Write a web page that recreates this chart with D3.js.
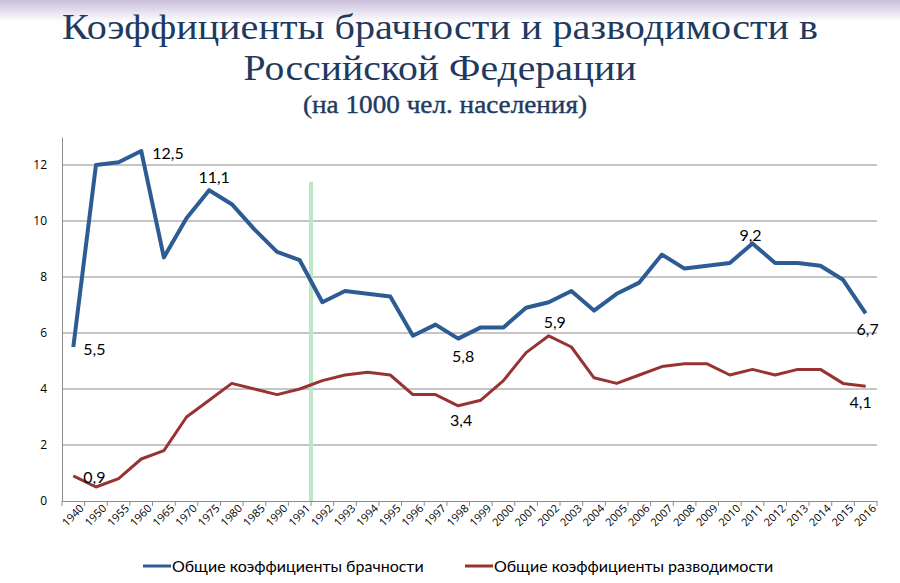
<!DOCTYPE html>
<html>
<head>
<meta charset="utf-8">
<script src="https://cdn.jsdelivr.net/npm/d3@7"></script>
<style>
  body { margin: 0; background: #fff; }
  svg { display: block; }
</style>
</head>
<body>
<div id="chart"></div>
<script>
const years = ["1940", "1950", "1955", "1960", "1965", "1970", "1975", "1980", "1985", "1990",
  "1991", "1992", "1993", "1994", "1995", "1996", "1997", "1998", "1999", "2000", "2001",
  "2002", "2003", "2004", "2005", "2006", "2007", "2008", "2009", "2010", "2011", "2012",
  "2013", "2014", "2015", "2016"];

const marriage = [5.5, 12.0, 12.1, 12.5, 8.7, 10.1, 11.1, 10.6, 9.7, 8.9,
  8.6, 7.1, 7.5, 7.4, 7.3, 5.9, 6.3, 5.8, 6.2, 6.2, 6.9,
  7.1, 7.5, 6.8, 7.4, 7.8, 8.8, 8.3, 8.4, 8.5, 9.2, 8.5,
  8.5, 8.4, 7.9, 6.7];

const divorce = [0.9, 0.5, 0.8, 1.5, 1.8, 3.0, 3.6, 4.2, 4.0, 3.8,
  4.0, 4.3, 4.5, 4.6, 4.5, 3.8, 3.8, 3.4, 3.6, 4.3, 5.3,
  5.9, 5.5, 4.4, 4.2, 4.5, 4.8, 4.9, 4.9, 4.5, 4.7, 4.5,
  4.7, 4.7, 4.2, 4.1];

const yTicks = [0, 2, 4, 6, 8, 10, 12];

const seriesNames = ["Общие коэффициенты брачности", "Общие коэффициенты разводимости"];

// which points get a value label, and where it sits relative to the point
const marriageLabels = [
  { year: "1940", dx: 10, dy: 8, anchor: "start" },
  { year: "1960", dx: 11, dy: 8, anchor: "start" },
  { year: "1975", dx: 5, dy: -7, anchor: "middle" },
  { year: "1998", dx: 5, dy: 23, anchor: "middle" },
  { year: "2011", dx: -2, dy: -2, anchor: "middle" },
  { year: "2016", dx: 2, dy: 22, anchor: "middle" }
];
const divorceLabels = [
  { year: "1940", dx: 10, dy: 7, anchor: "start" },
  { year: "1998", dx: 3, dy: 20, anchor: "middle" },
  { year: "2002", dx: 6, dy: -8, anchor: "middle" },
  { year: "2016", dx: -5, dy: 22, anchor: "middle" }
];

const width = 900;
const height = 583;
const margin = { top: 137, right: 23, bottom: 82, left: 62 };

const svg = d3.select("#chart")
  .append("svg")
  .attr("width", width)
  .attr("height", height);

// top lavender band
const defs = svg.append("defs");
const grad = defs.append("linearGradient")
  .attr("id", "topband")
  .attr("x1", 0).attr("y1", 0).attr("x2", 0).attr("y2", 1);
grad.append("stop").attr("offset", "0%").attr("stop-color", "#c9bfdc");
grad.append("stop").attr("offset", "100%").attr("stop-color", "#ffffff");
svg.append("rect")
  .attr("x", 0).attr("y", 0)
  .attr("width", width).attr("height", 22)
  .attr("fill", "url(#topband)");

// title
const titleFont = "'Liberation Serif', 'DejaVu Serif', serif";
const titleLines = [
  { text: "Коэффициенты брачности и разводимости в", y: 39, size: 36, len: 756 },
  { text: "Российской Федерации", y: 80, size: 36, len: 393 }
];
titleLines.forEach(t => {
  svg.append("text")
    .attr("x", 440).attr("y", t.y)
    .attr("text-anchor", "middle")
    .attr("font-family", titleFont)
    .attr("font-size", t.size)
    .attr("textLength", t.len)
    .attr("lengthAdjust", "spacingAndGlyphs")
    .attr("fill", "#1f3a5f")
    .text(t.text);
});
svg.append("text")
  .attr("x", 445).attr("y", 113)
  .attr("text-anchor", "middle")
  .attr("font-family", titleFont)
  .attr("font-size", 25)
  .attr("textLength", 284)
  .attr("lengthAdjust", "spacingAndGlyphs")
  .attr("stroke", "#1f3a5f")
  .attr("stroke-width", 0.4)
  .attr("fill", "#1f3a5f")
  .text("(на 1000 чел. населения)");

const x = d3.scaleBand()
  .domain(years)
  .range([margin.left, width - margin.right]);

const y = d3.scaleLinear()
  .domain([0, 13])
  .range([height - margin.bottom, margin.top]);

const cx = d => x(d) + x.bandwidth() / 2;

// gridlines
svg.append("g")
  .selectAll("line")
  .data(yTicks.filter(d => d > 0))
  .enter()
  .append("line")
  .attr("x1", margin.left)
  .attr("x2", width - margin.right)
  .attr("y1", d => y(d))
  .attr("y2", d => y(d))
  .attr("stroke", "#8c8c8c")
  .attr("stroke-width", 1);

// y axis
const yAxis = svg.append("g")
  .attr("transform", `translate(${margin.left},0)`)
  .call(d3.axisLeft(y).tickValues(yTicks).tickSize(0).tickPadding(15));
yAxis.select(".domain").attr("stroke", "#8c8c8c");
yAxis.selectAll("text")
  .attr("font-family", "'Open Sans', sans-serif")
  .attr("font-size", 12)
  .attr("fill", "#000");

// x axis
const xAxis = svg.append("g")
  .attr("transform", `translate(0,${y(0)})`)
  .call(d3.axisBottom(x).tickSize(0).tickPadding(6));
xAxis.select(".domain").attr("stroke", "#8c8c8c");
xAxis.selectAll("text")
  .attr("font-family", "'Open Sans', sans-serif")
  .attr("font-size", 11)
  .attr("fill", "#000")
  .attr("text-anchor", "end")
  .attr("dx", "0.2em")
  .attr("dy", "0.7em")
  .attr("transform", "rotate(-45)");

// category boundary ticks
svg.append("g")
  .selectAll("line")
  .data(years.concat(["end"]))
  .enter()
  .append("line")
  .attr("x1", (d, i) => margin.left + i * x.step())
  .attr("x2", (d, i) => margin.left + i * x.step())
  .attr("y1", y(0))
  .attr("y2", y(0) + 5)
  .attr("stroke", "#8c8c8c");

// green marker between 1991 and 1992
svg.append("line")
  .attr("x1", x("1992"))
  .attr("x2", x("1992"))
  .attr("y1", y(11.4))
  .attr("y2", y(0))
  .attr("stroke", "#bde7c7")
  .attr("stroke-width", 4);

const line = d3.line()
  .x((d, i) => cx(years[i]))
  .y(d => y(d));

svg.append("path")
  .datum(divorce)
  .attr("d", line)
  .attr("fill", "none")
  .attr("stroke", "#983333")
  .attr("stroke-width", 3)
  .attr("stroke-linejoin", "round");

svg.append("path")
  .datum(marriage)
  .attr("d", line)
  .attr("fill", "none")
  .attr("stroke", "#2d5b94")
  .attr("stroke-width", 4)
  .attr("stroke-linejoin", "round");

// data labels
const fmt = v => d3.format(".1f")(v).replace(".", ",");
const labelFont = "Lato, 'Open Sans', sans-serif";

function addLabels(labels, values) {
  svg.append("g")
    .selectAll("text")
    .data(labels)
    .enter()
    .append("text")
    .attr("x", d => cx(d.year) + d.dx)
    .attr("y", d => y(values[years.indexOf(d.year)]) + d.dy)
    .attr("text-anchor", d => d.anchor)
    .attr("font-family", labelFont)
    .attr("font-size", 16)
    .attr("fill", "#000")
    .text(d => fmt(values[years.indexOf(d.year)]));
}
addLabels(marriageLabels, marriage);
addLabels(divorceLabels, divorce);

// legend
const legend = svg.append("g")
  .attr("transform", `translate(0,${height - 17})`);
const legendItems = [
  { name: seriesNames[0], color: "#2d5b94", x: 143 },
  { name: seriesNames[1], color: "#983333", x: 465 }
];
legendItems.forEach(d => {
  legend.append("line")
    .attr("x1", d.x).attr("x2", d.x + 28)
    .attr("y1", 0).attr("y2", 0)
    .attr("stroke", d.color)
    .attr("stroke-width", 3);
  legend.append("text")
    .attr("x", d.x + 29)
    .attr("y", 6)
    .attr("font-family", labelFont)
    .attr("font-size", 16)
    .attr("fill", "#000")
    .text(d.name);
});
</script>
</body>
</html>
